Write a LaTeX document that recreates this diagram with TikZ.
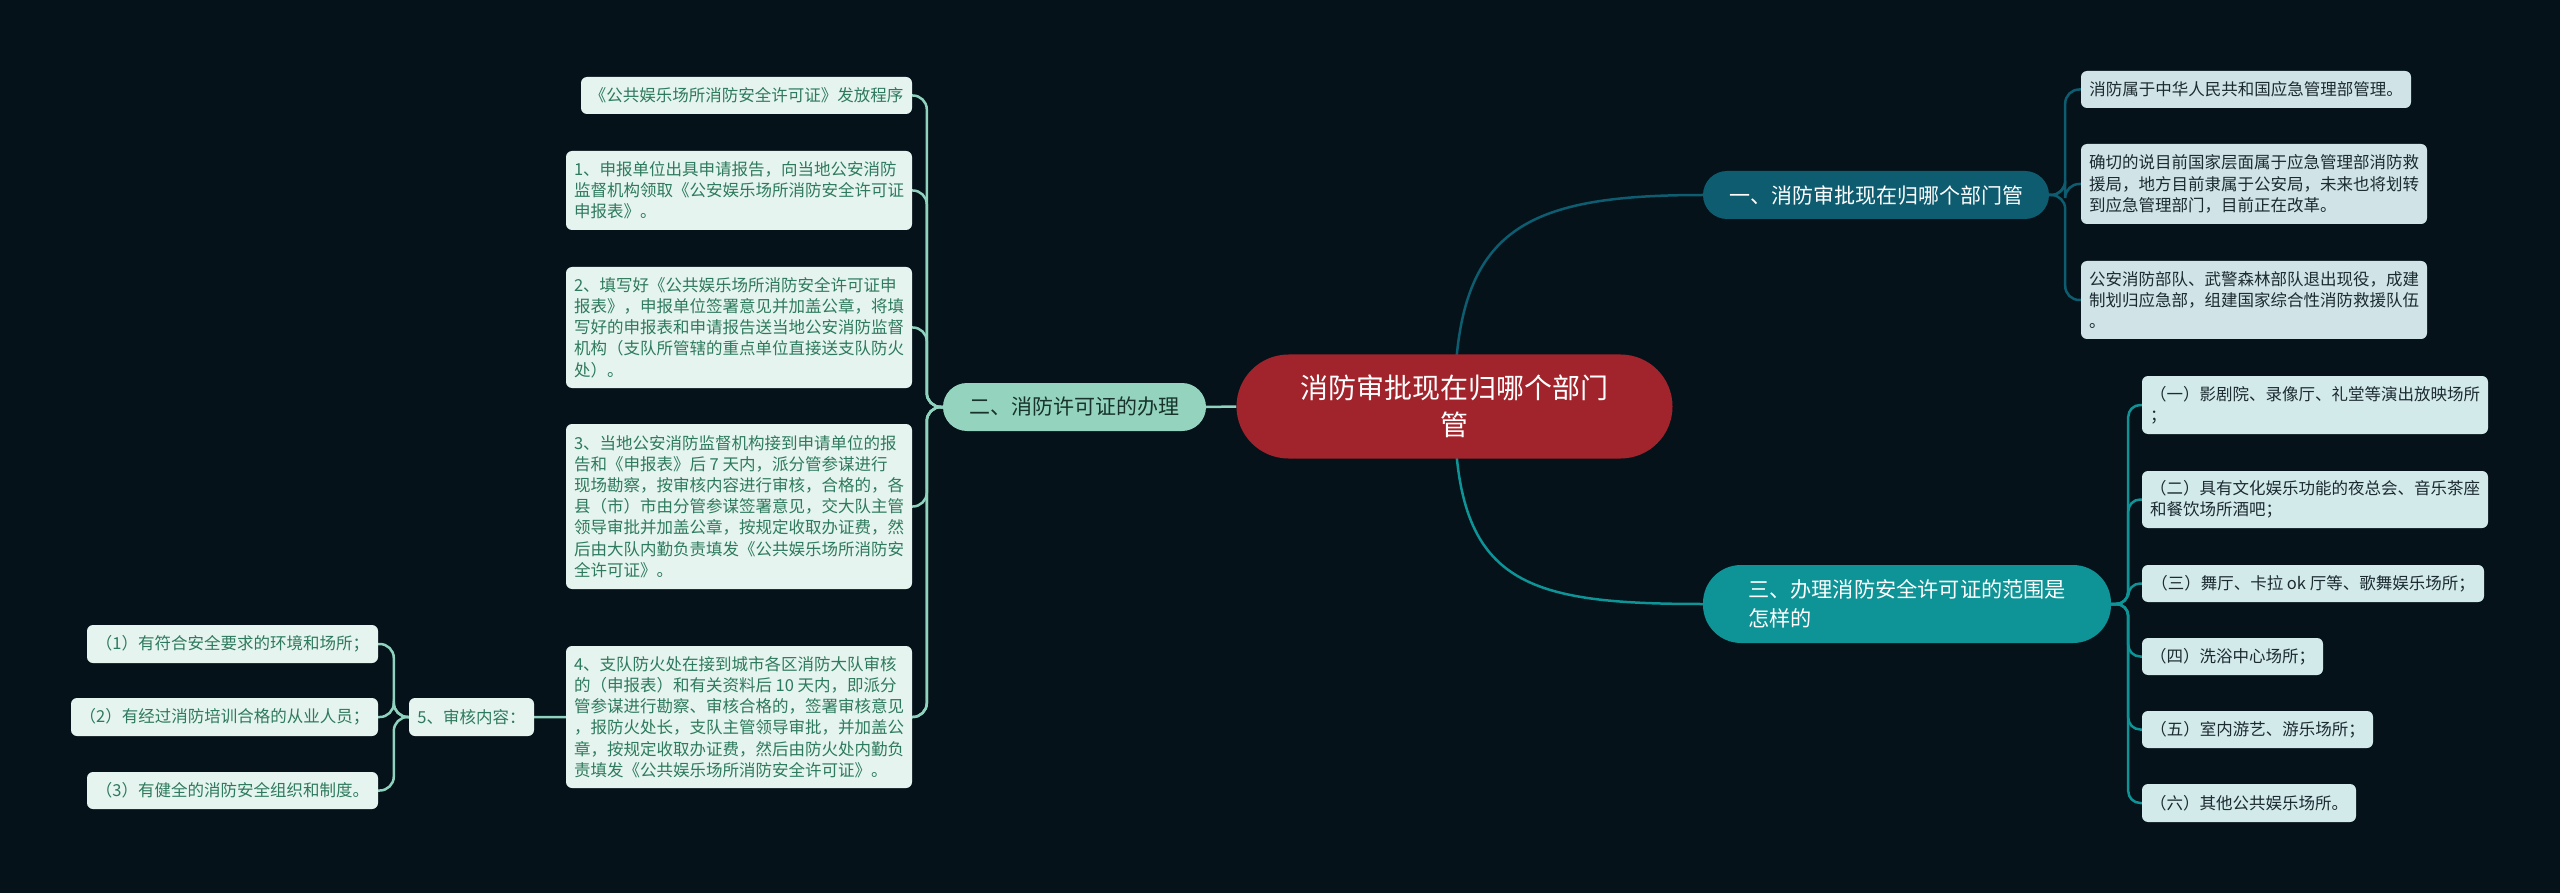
\documentclass[tikz,border=0pt]{standalone}
\usepackage{fontspec}
\setmainfont{Noto Sans CJK SC}
\pgfdeclarelayer{background}
\pgfsetlayers{background,main}
\definecolor{bgc}{HTML}{05121A}
\definecolor{centralc}{HTML}{A1232B}
\definecolor{bonec}{HTML}{0D5C70}
\definecolor{bthreec}{HTML}{0E9396}
\definecolor{btwoc}{HTML}{94D4BF}
\definecolor{btwotext}{HTML}{17332B}
\definecolor{cleafc}{HTML}{D0E3E7}
\definecolor{dleafc}{HTML}{D3EAEB}
\definecolor{eleafc}{HTML}{E5F4EE}
\definecolor{etextc}{HTML}{2E7A5E}
\definecolor{darktext}{HTML}{1C2B30}
\definecolor{mintline}{HTML}{8FD3BE}
\tikzset{
  leaf/.style={rounded corners=6pt, inner sep=0pt, align=left,
    font=\fontsize{16.5}{21.2}\selectfont},
  cleaf/.style={leaf, fill=cleafc, text=darktext},
  dleaf/.style={leaf, fill=dleafc, text=darktext},
  eleaf/.style={leaf, fill=eleafc, text=etextc},
  central/.style={rounded corners=52pt, fill=centralc, text=white, inner sep=0pt,
    align=center, font=\fontsize{28}{37}\selectfont},
  bone/.style={rounded corners=24pt, fill=bonec, text=white, inner sep=0pt,
    font=\fontsize{21}{28}\selectfont},
  bthree/.style={rounded corners=38pt, fill=bthreec, text=white, inner sep=0pt,
    align=left, font=\fontsize{21.2}{29}\selectfont},
  btwo/.style={rounded corners=24pt, fill=btwoc, text=btwotext, inner sep=0pt,
    font=\fontsize{21}{28}\selectfont},
  lconn/.style={draw=mintline, line width=2.5pt, rounded corners=14pt},
  oneconn/.style={draw=bonec, line width=2.5pt, rounded corners=14pt},
  threeconn/.style={draw=bthreec, line width=2.5pt, rounded corners=12pt},
}
\begin{document}
\begin{tikzpicture}[x=1pt, y=-1pt]
\useasboundingbox (0,0) rectangle (2560,893);
\begin{pgfonlayer}{background}
\fill[bgc] (0,0) rectangle (2560,893);
\end{pgfonlayer}

% central
\node[central, minimum width=436pt, minimum height=104pt] (central) at (1454.5,406.5)
  {消防审批现在归哪个部门\\管};

% branch 1
\node[bone, minimum width=346pt, minimum height=48pt] (b1) at (1876,195)
  {一、消防审批现在归哪个部门管};
\node[cleaf, minimum width=330pt, minimum height=37pt] (c1) at (2246,89.5)
  {消防属于中华人民共和国应急管理部管理。};
\node[cleaf, minimum width=346pt, minimum height=80pt] (c2) at (2254,184)
  {确切的说目前国家层面属于应急管理部消防救\\援局，地方目前隶属于公安局，未来也将划转\\到应急管理部门，目前正在改革。};
\node[cleaf, minimum width=346pt, minimum height=78pt] (c3) at (2254,300)
  {公安消防部队、武警森林部队退出现役，成建\\制划归应急部，组建国家综合性消防救援队伍\\。};

% branch 3
\node[bthree, minimum width=408pt, minimum height=78pt] (b3) at (1907,604)
  {三、办理消防安全许可证的范围是\\怎样的};
\node[dleaf, minimum width=346pt, minimum height=58pt] (d1) at (2315,405)
  {（一）影剧院、录像厅、礼堂等演出放映场所\\；};
\node[dleaf, minimum width=346pt, minimum height=57pt] (d2) at (2315,499.5)
  {（二）具有文化娱乐功能的夜总会、音乐茶座\\和餐饮场所酒吧；};
\node[dleaf, minimum width=342pt, minimum height=37pt] (d3) at (2313,583.5)
  {（三）舞厅、卡拉 ok 厅等、歌舞娱乐场所；};
\node[dleaf, minimum width=181pt, minimum height=37pt] (d4) at (2232.5,656.5)
  {（四）洗浴中心场所；};
\node[dleaf, minimum width=231pt, minimum height=37pt] (d5) at (2257.5,729.5)
  {（五）室内游艺、游乐场所；};
\node[dleaf, minimum width=214pt, minimum height=38pt] (d6) at (2249,803)
  {（六）其他公共娱乐场所。};

% branch 2
\node[btwo, minimum width=263pt, minimum height=48pt] (b2) at (1074.5,407)
  {二、消防许可证的办理};
\node[eleaf, minimum width=331pt, minimum height=37pt] (e0) at (746.5,95.5)
  {《公共娱乐场所消防安全许可证》发放程序};
\node[eleaf, minimum width=346pt, minimum height=79pt] (e1) at (739,190.5)
  {1、申报单位出具申请报告，向当地公安消防\\监督机构领取《公安娱乐场所消防安全许可证\\申报表》。};
\node[eleaf, minimum width=346pt, minimum height=121pt] (e2) at (739,327.5)
  {2、填写好《公共娱乐场所消防安全许可证申\\报表》，申报单位签署意见并加盖公章，将填\\写好的申报表和申请报告送当地公安消防监督\\机构（支队所管辖的重点单位直接送支队防火\\处）。};
\node[eleaf, minimum width=346pt, minimum height=165pt] (e3) at (739,506.5)
  {3、当地公安消防监督机构接到申请单位的报\\告和《申报表》后 7 天内，派分管参谋进行\\现场勘察，按审核内容进行审核，合格的，各\\县（市）市由分管参谋签署意见，交大队主管\\领导审批并加盖公章，按规定收取办证费，然\\后由大队内勤负责填发《公共娱乐场所消防安\\全许可证》。};
\node[eleaf, minimum width=346pt, minimum height=142pt] (e4) at (739,717)
  {4、支队防火处在接到城市各区消防大队审核\\的（申报表）和有关资料后 10 天内，即派分\\管参谋进行勘察、审核合格的，签署审核意见\\，报防火处长，支队主管领导审批，并加盖公\\章，按规定收取办证费，然后由防火处内勤负\\责填发《公共娱乐场所消防安全许可证》。};
\node[eleaf, minimum width=125pt, minimum height=38pt] (n5) at (471.5,717)
  {5、审核内容：};
\node[eleaf, minimum width=291pt, minimum height=38pt] (f1) at (232.5,644)
  {（1）有符合安全要求的环境和场所；};
\node[eleaf, minimum width=307pt, minimum height=38pt] (f2) at (224.5,717)
  {（2）有经过消防培训合格的从业人员；};
\node[eleaf, minimum width=291pt, minimum height=37pt] (f3) at (232.5,790.5)
  {（3）有健全的消防安全组织和制度。};

\begin{pgfonlayer}{background}
% central to branches
\draw[draw=bonec, line width=2.5pt] (central.center) .. controls +(0,-176) and +(-183,0) .. (b1.west);
\draw[draw=bthreec, line width=2.5pt] (central.center) .. controls +(0,176) and +(-183,0) .. (b3.west);
\draw[draw=mintline, line width=2.5pt] (central.west) -- (b2.east);
% branch 1 children
\foreach \c in {c1,c2,c3}
  \draw[oneconn] (b1.east) -- ++(16,0) |- (\c.west);
% branch 3 children
\foreach \c in {d1,d2,d3,d4,d5,d6}
  \draw[threeconn] (b3.east) -- ++(17,0) |- (\c.west);
% branch 2 children
\foreach \c in {e0,e1,e2,e3,e4,n5}
  \draw[lconn] (b2.west) -- ++(-16,0) |- (\c.east);
% node 5 children
\foreach \c in {f1,f2,f3}
  \draw[lconn] (n5.west) -- ++(-15,0) |- (\c.east);
\end{pgfonlayer}
\end{tikzpicture}
\end{document}
